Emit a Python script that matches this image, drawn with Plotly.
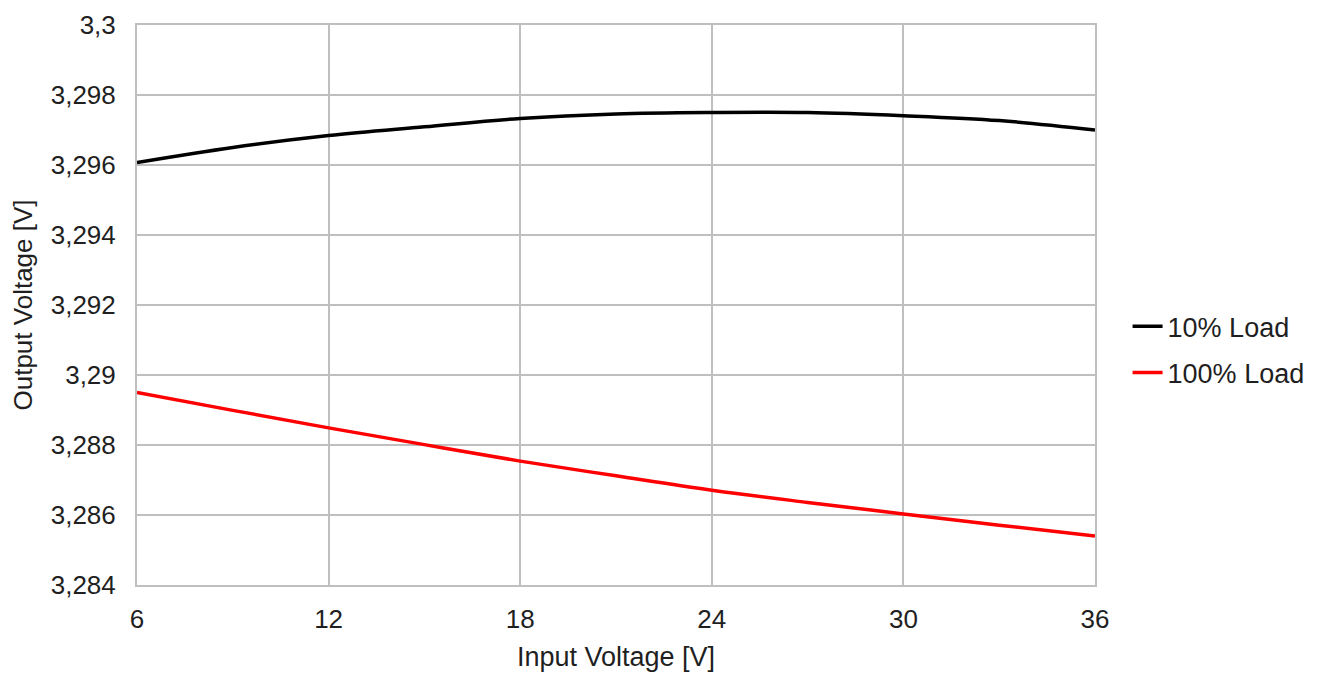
import plotly.graph_objects as go

# Data
input_voltage = [6, 9, 12, 15, 18, 21, 24, 27, 30, 33, 36]
load_10 = [3.29607, 3.29650, 3.29684, 3.29709, 3.29733, 3.29746, 3.29750, 3.29750, 3.29741, 3.29727, 3.29700]
load_100 = [3.28950, 3.28899, 3.28849, 3.28801, 3.28754, 3.28712, 3.28671, 3.28636, 3.28603, 3.28571, 3.28540]

x_ticks = [6, 12, 18, 24, 30, 36]
y_tick_vals = [3.284, 3.286, 3.288, 3.290, 3.292, 3.294, 3.296, 3.298, 3.300]
y_tick_text = ["3,284", "3,286", "3,288", "3,29", "3,292", "3,294", "3,296", "3,298", "3,3"]

FONT = "Liberation Sans, Arial, sans-serif"
TXT = "#1f1f1f"
GRID = "#bfbfbf"

fig = go.Figure()
fig.add_trace(go.Scatter(x=input_voltage, y=load_10, mode="lines", name="10% Load",
                         legendgroup="a",
                         line=dict(color="black", width=3.5, shape="spline")))
fig.add_trace(go.Scatter(x=input_voltage, y=load_100, mode="lines", name="100% Load",
                         legendgroup="b",
                         line=dict(color="#ff0000", width=3.5, shape="spline")))

fig.update_layout(
    width=1319, height=673,
    margin=dict(l=129, r=232, t=17, b=96, autoexpand=False),
    paper_bgcolor="white", plot_bgcolor="white",
    font=dict(family=FONT, size=26, color=TXT),
    legend=dict(x=1.034, xanchor="left", y=0.42, yanchor="middle",
                font=dict(size=27, color=TXT), traceorder="grouped", tracegroupgap=8,
                bgcolor="rgba(0,0,0,0)"),
    showlegend=True,
)
fig.update_xaxes(
    range=[6, 36], tickvals=x_ticks, ticktext=[str(v) for v in x_ticks],
    showgrid=True, gridcolor=GRID, gridwidth=2,
    showline=True, linecolor=GRID, linewidth=2, mirror=True,
    zeroline=False, ticks="", ticklabelstandoff=10, automargin=False,
    tickfont=dict(size=26, color=TXT),
    title=dict(text="Input Voltage [V]", font=dict(size=27, color=TXT), standoff=14),
)
fig.update_yaxes(
    range=[3.284, 3.300], tickvals=y_tick_vals, ticktext=y_tick_text,
    showgrid=True, gridcolor=GRID, gridwidth=2,
    showline=True, linecolor=GRID, linewidth=2, mirror=True,
    zeroline=False, ticks="", ticklabelstandoff=14, automargin=False,
    tickfont=dict(size=26, color=TXT),
    title=dict(text="Output Voltage [V]", font=dict(size=26, color=TXT), standoff=11),
)

fig.write_html("out.html")
